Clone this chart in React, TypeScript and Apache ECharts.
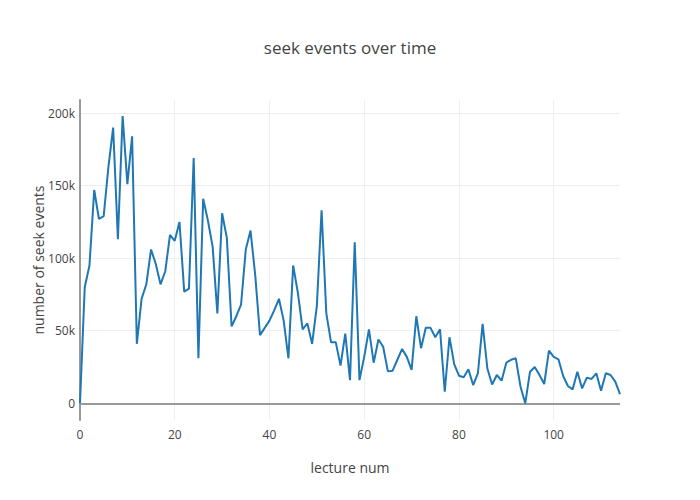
import React, { useEffect, useRef } from "react";
import * as echarts from "echarts";

const lectureNums: number[] = Array.from({ length: 115 }, (_, i) => i);

// seek events (thousands) per lecture
const seekEventsK: number[] = [
  0, 80, 95, 147, 127, 129, 163, 190, 113, 198,
  151, 184, 41, 72, 82, 106, 96, 82, 91, 116,
  112, 125, 77, 79, 169, 31, 141, 126, 108, 62,
  131, 114, 53, 60, 68, 106, 119, 88, 47, 52,
  57, 64, 72, 57, 31, 95, 76, 51, 55, 41,
  67, 133, 62, 42, 42, 26, 48, 16, 111, 16,
  32, 51, 28, 44, 39, 22, 22.5, 30, 37.5, 32,
  23, 60, 38, 52, 52, 45.5, 51, 8, 45.5, 27,
  19, 18, 23.4, 12.6, 20.7, 54.7, 24, 13, 19.5, 15.6,
  28, 30, 31, 11.4, 0, 21.8, 25, 19.5, 13.3, 36.3,
  32, 30.3, 18.8, 11.9, 9.6, 21.8, 10.3, 17.7, 16.8, 20.7,
  8.7, 20.7, 19.5, 15, 6.4,
];

const xTicks: number[] = [0, 20, 40, 60, 80, 100];
const yTicks: number[] = [0, 50000, 100000, 150000, 200000];

const FONT = '"Open Sans", "Noto Sans", sans-serif';

export default function App() {
  const ref = useRef<HTMLDivElement>(null);
  useEffect(() => {
    if (!ref.current) return;
    const chart = echarts.init(ref.current, null, { renderer: "svg" });
    const data = lectureNums.map((x, i) => [x, seekEventsK[i] * 1000]);
    chart.setOption({
      animation: false,
      backgroundColor: "#fff",
      textStyle: { fontFamily: FONT },
      title: {
        text: "seek events over time",
        left: "center",
        top: 34,
        textStyle: { fontFamily: FONT, fontSize: 17, fontWeight: "normal", color: "#444" },
      },
      grid: { left: 80, right: 80, top: 100, bottom: 80, containLabel: false },
      xAxis: {
        type: "value",
        min: 0,
        max: 114,
        name: "lecture num",
        nameLocation: "middle",
        nameGap: 40,
        nameTextStyle: { fontFamily: FONT, fontSize: 14, color: "#444" },
        axisLine: { show: false, onZero: false },
        axisTick: { show: false, customValues: xTicks },
        axisLabel: { customValues: xTicks, color: "#444", fontSize: 12, margin: 8, fontFamily: FONT },
        splitLine: { show: true, lineStyle: { color: "#eee", width: 1 } },
      },
      yAxis: {
        type: "value",
        min: -11500,
        max: 209000,
        name: "number of seek events",
        nameLocation: "middle",
        nameGap: 35,
        nameMoveOverlap: false,
        nameRotate: 90,
        nameTextStyle: { fontFamily: FONT, fontSize: 14, color: "#444" },
        axisLine: { show: true, onZero: false, lineStyle: { color: "#999", width: 2 } },
        axisTick: { show: false, customValues: yTicks },
        axisLabel: {
          customValues: yTicks,
          color: "#444",
          fontSize: 12,
          margin: 5,
          fontFamily: FONT,
          formatter: (v: number) => (v === 0 ? "0" : `${Math.round(v / 1000)}k`),
        },
        splitLine: { show: true, lineStyle: { color: "#eee", width: 1 } },
      },
      series: [
        {
          type: "line",
          data,
          showSymbol: false,
          symbol: "none",
          lineStyle: { color: "#1f77b4", width: 2 },
          itemStyle: { color: "#1f77b4" },
          z: 3,
          markLine: {
            silent: true,
            symbol: "none",
            label: { show: false },
            lineStyle: { color: "#999", width: 2, type: "solid" },
            data: [{ yAxis: 0 }],
            z: 2,
          },
        },
      ],
    });
    return () => chart.dispose();
  }, []);
  return (
    <div
      ref={ref}
      style={{ position: "absolute", left: 0, top: 0, width: 700, height: 500 }}
    />
  );
}
